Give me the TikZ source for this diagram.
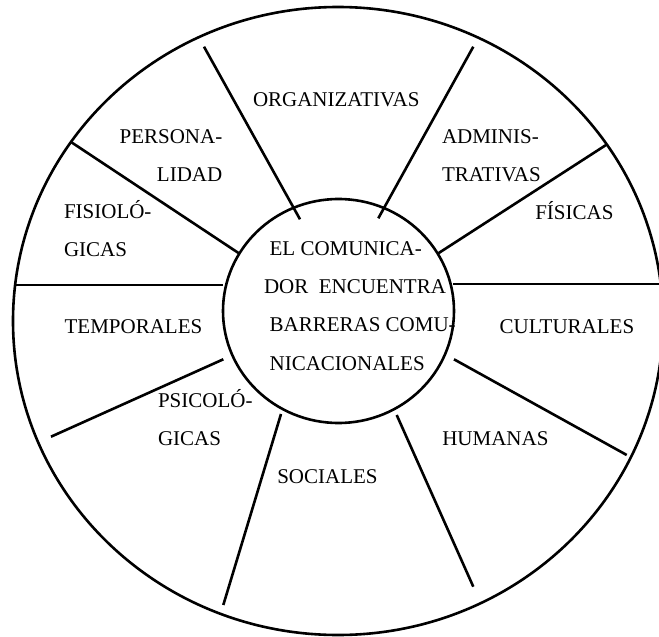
\documentclass[tikz,border=0pt]{standalone}
\usepackage{fontspec}
\setmainfont{Liberation Serif}
\usetikzlibrary{positioning}

\begin{document}
\begin{tikzpicture}[
  x=0.5pt, y=-0.5pt,
  line width=1.3pt,
  barrera/.style={inner sep=0pt, anchor=base west, font=\fontsize{10.5}{18.9}\selectfont},
  centro/.style={barrera, align=left, font=\fontsize{10.5}{19.1}\selectfont},
]
  \useasboundingbox (0,0) rectangle (659,637);

  % the two rings
  \draw (338,321) ellipse [x radius=325, y radius=314];
  \draw (338.5,311) ellipse [x radius=115.5, y radius=112];

  % spoke ends
  \coordinate (persorg-out) at (204,46.7);    \coordinate (persorg-in) at (300,219.3);
  \coordinate (orgadm-out) at (473.3,46.7);   \coordinate (orgadm-in) at (378.3,218.3);
  \coordinate (admfis-out) at (606,145);      \coordinate (admfis-in) at (438.3,253.3);
  \coordinate (fiscul-in) at (453,284);       \coordinate (fiscul-out) at (662,284);
  \coordinate (fistem-out) at (15,285);       \coordinate (fistem-in) at (223,285);
  \coordinate (fisper-out) at (71,142);       \coordinate (fisper-in) at (240,254);
  \coordinate (tempsi-in) at (223.3,359.3);   \coordinate (tempsi-out) at (51,436.7);
  \coordinate (psisoc-in) at (281,414);       \coordinate (psisoc-out) at (223.3,605);
  \coordinate (sochum-in) at (396.7,415);     \coordinate (sochum-out) at (473.3,586.7);
  \coordinate (humcul-in) at (454,359.3);     \coordinate (humcul-out) at (626.7,455);

  \draw (persorg-in) -- (persorg-out);
  \draw (orgadm-in) -- (orgadm-out);
  \draw (admfis-in) -- (admfis-out);
  \draw (fiscul-in) -- (fiscul-out);
  \draw (fistem-in) -- (fistem-out);
  \draw (fisper-in) -- (fisper-out);
  \draw (tempsi-in) -- (tempsi-out);
  \draw (psisoc-in) -- (psisoc-out);
  \draw (sochum-in) -- (sochum-out);
  \draw (humcul-in) -- (humcul-out);

  % labels (multi-line ones sit on their last line)
  \node[centro] (comunicador) at (268.3,370) {EL COMUNICA-\\\hspace*{-2.8pt}DOR\ \ ENCUENTRA\\BARRERAS COMU-\\NICACIONALES};
  \node[barrera] (organizativas) at (251.7,106) {ORGANIZATIVAS};
  \node[barrera, align=right] (personalidad) at (118.3,181.5) {PERSONA-\\LIDAD};
  \node[barrera, align=left] (administrativas) at (440.7,181.7) {ADMINIS-\\TRATIVAS};
  \node[barrera] (fisicas) at (534,219.3) {FÍSICAS};
  \node[barrera, align=left] (fisiologicas) at (62.7,256.7) {FISIOLÓ-\\GICAS};
  \node[barrera] (temporales) at (63.3,333) {TEMPORALES};
  \node[barrera] (culturales) at (498.3,333) {CULTURALES};
  \node[barrera, align=left] (psicologicas) at (156.7,445.7) {PSICOLÓ-\\GICAS};
  \node[barrera] (sociales) at (276,483.3) {SOCIALES};
  \node[barrera] (humanas) at (441,445.7) {HUMANAS};
\end{tikzpicture}
\end{document}
